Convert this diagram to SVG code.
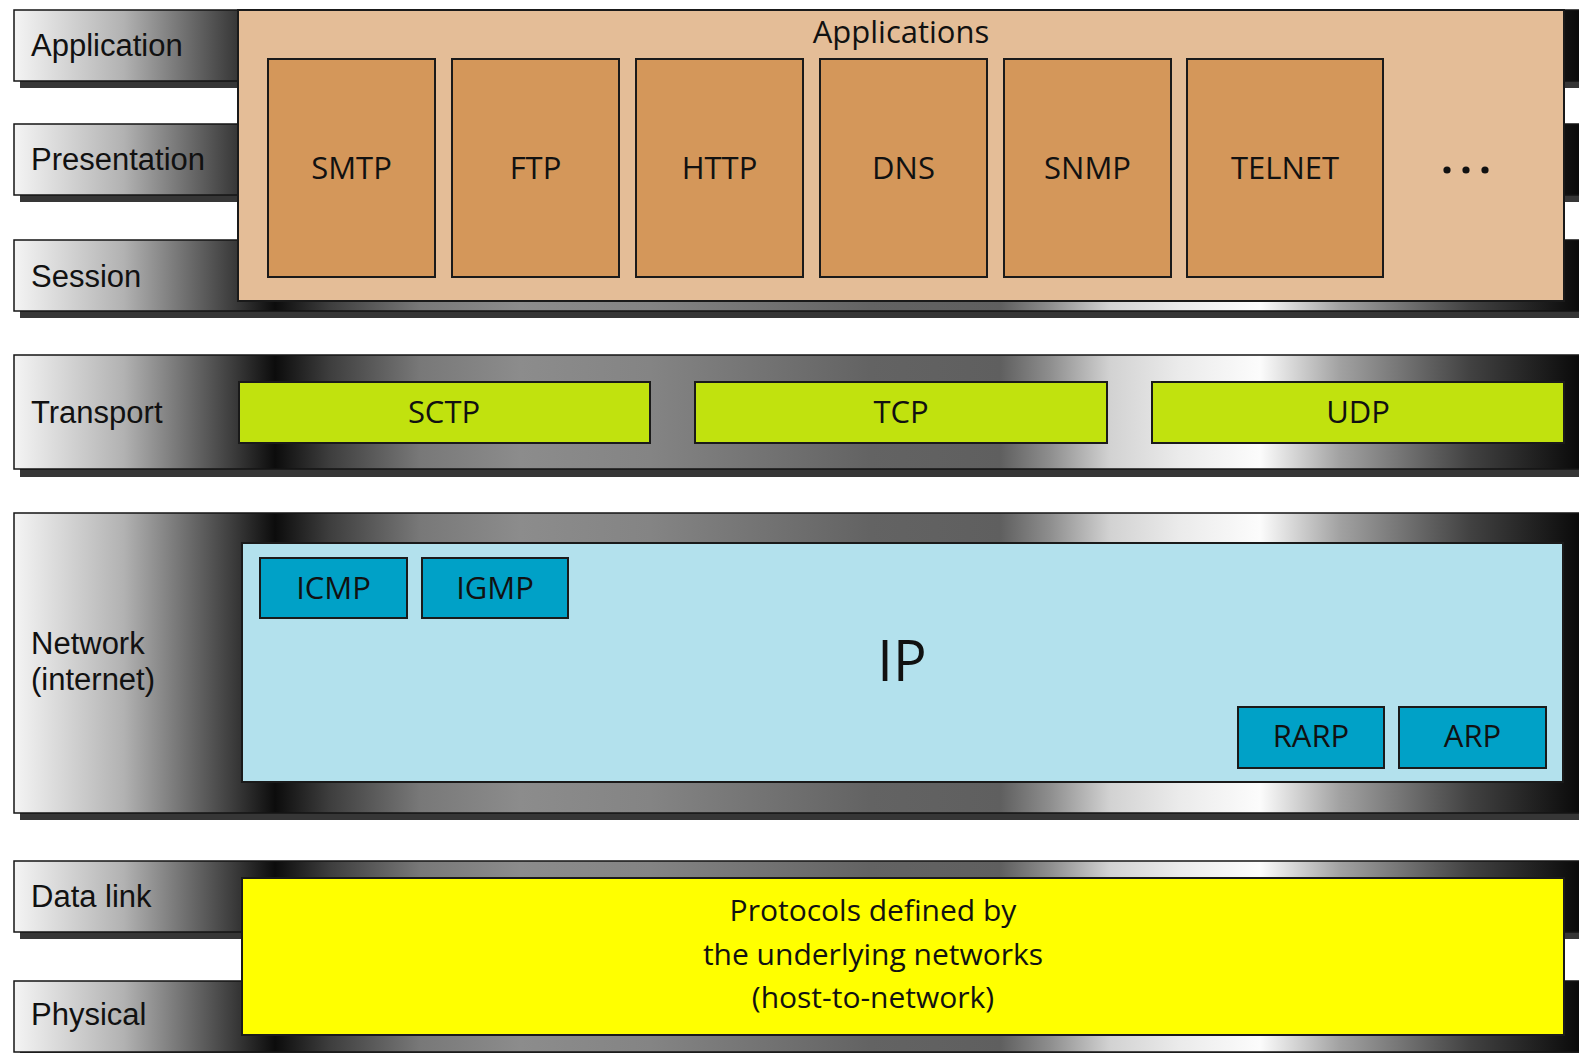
<svg xmlns="http://www.w3.org/2000/svg" width="1579" height="1053" viewBox="0 0 1579 1053">
<defs>
<linearGradient id="bandGrad" gradientUnits="userSpaceOnUse" x1="14" y1="0" x2="1579" y2="0">
<stop offset="0" stop-color="#f4f4f4"/>
<stop offset="0.07" stop-color="#b2b2b2"/>
<stop offset="0.14" stop-color="#3c3c3c"/>
<stop offset="0.1668" stop-color="#0c0c0c"/>
<stop offset="0.202" stop-color="#3e3e3e"/>
<stop offset="0.2594" stop-color="#787878"/>
<stop offset="0.3233" stop-color="#8c8c8c"/>
<stop offset="0.4064" stop-color="#848484"/>
<stop offset="0.547" stop-color="#636363"/>
<stop offset="0.63" stop-color="#5f5f5f"/>
<stop offset="0.662" stop-color="#8e8e8e"/>
<stop offset="0.7003" stop-color="#d2d2d2"/>
<stop offset="0.745" stop-color="#ebebeb"/>
<stop offset="0.796" stop-color="#fcfcfc"/>
<stop offset="0.847" stop-color="#a2a2a2"/>
<stop offset="0.93" stop-color="#424242"/>
<stop offset="1" stop-color="#0a0a0a"/>
</linearGradient>
</defs>
<style>
.band{fill:url(#bandGrad);stroke:#151515;stroke-width:1.5}
.shadow{fill:#363636}
.lbl{font-family:"Liberation Sans",Arial,sans-serif;font-size:31px;fill:#111}
.ctr{font-family:"Open Sans","Liberation Sans",sans-serif;font-size:31px;fill:#111;text-anchor:middle}
.tan{fill:#e4bd97;stroke:#1a1a1a;stroke-width:2}
.app{fill:#d4975a;stroke:#1a1a1a;stroke-width:2}
.green{fill:#c1e20e;stroke:#1a1a1a;stroke-width:2}
.ip{fill:#b3e1ed;stroke:#1a1a1a;stroke-width:2}
.blue{fill:#00a1c7;stroke:#1a1a1a;stroke-width:2}
.yellow{fill:#ffff00;stroke:#1a1a1a;stroke-width:2}
</style>
<rect width="1579" height="1053" fill="#ffffff"/>

<!-- Layer bands -->
<g id="layer-application">
<rect class="shadow" x="20" y="81" width="1565" height="7"/>
<rect class="band" x="14" y="10" width="1570" height="71"/>
<text class="lbl" x="31" y="56">Application</text>
</g>
<g id="layer-presentation">
<rect class="shadow" x="20" y="195" width="1565" height="7"/>
<rect class="band" x="14" y="124" width="1570" height="71"/>
<text class="lbl" x="31" y="170">Presentation</text>
</g>
<g id="layer-session">
<rect class="shadow" x="20" y="311" width="1565" height="7"/>
<rect class="band" x="14" y="240" width="1570" height="71"/>
<text class="lbl" x="31" y="287">Session</text>
</g>

<g id="applications">
<rect class="tan" x="238" y="10" width="1326" height="291"/>
<text class="ctr" x="901" y="43">Applications</text>
</g>
<g id="smtp"><rect class="app" x="268" y="59" width="167" height="218"/><text class="ctr" x="351.5" y="179">SMTP</text></g>
<g id="ftp"><rect class="app" x="452" y="59" width="167" height="218"/><text class="ctr" x="535.5" y="179">FTP</text></g>
<g id="http"><rect class="app" x="636" y="59" width="167" height="218"/><text class="ctr" x="719.5" y="179">HTTP</text></g>
<g id="dns"><rect class="app" x="820" y="59" width="167" height="218"/><text class="ctr" x="903.5" y="179">DNS</text></g>
<g id="snmp"><rect class="app" x="1004" y="59" width="167" height="218"/><text class="ctr" x="1087.5" y="179">SNMP</text></g>
<g id="telnet"><rect class="app" x="1187" y="59" width="196" height="218"/><text class="ctr" x="1285" y="179">TELNET</text></g>
<g id="more">
<circle cx="1447" cy="170" r="3.6" fill="#111"/>
<circle cx="1466" cy="170" r="3.6" fill="#111"/>
<circle cx="1485" cy="170" r="3.6" fill="#111"/>
</g>

<g id="layer-transport">
<rect class="shadow" x="20" y="469" width="1565" height="8"/>
<rect class="band" x="14" y="355" width="1570" height="114"/>
<text class="lbl" x="31" y="423">Transport</text>
</g>
<g id="sctp"><rect class="green" x="239" y="382" width="411" height="61"/><text class="ctr" x="444" y="423">SCTP</text></g>
<g id="tcp"><rect class="green" x="695" y="382" width="412" height="61"/><text class="ctr" x="901" y="423">TCP</text></g>
<g id="udp"><rect class="green" x="1152" y="382" width="412" height="61"/><text class="ctr" x="1358" y="423">UDP</text></g>

<g id="layer-network">
<rect class="shadow" x="20" y="813" width="1565" height="7"/>
<rect class="band" x="14" y="513" width="1570" height="300"/>
<text class="lbl" x="31" y="654">Network</text>
<text class="lbl" x="31" y="690">(internet)</text>
</g>
<g id="ip">
<rect class="ip" x="242" y="543" width="1321" height="239"/>
<text class="ctr" x="902" y="681" style="font-size:56px">IP</text>
</g>
<g id="icmp"><rect class="blue" x="260" y="558" width="147" height="60"/><text class="ctr" x="333.5" y="599">ICMP</text></g>
<g id="igmp"><rect class="blue" x="422" y="558" width="146" height="60"/><text class="ctr" x="495" y="599">IGMP</text></g>
<g id="rarp"><rect class="blue" x="1238" y="707" width="146" height="61"/><text class="ctr" x="1311" y="747">RARP</text></g>
<g id="arp"><rect class="blue" x="1399" y="707" width="147" height="61"/><text class="ctr" x="1472.5" y="747">ARP</text></g>

<g id="layer-datalink">
<rect class="shadow" x="20" y="932" width="1565" height="7"/>
<rect class="band" x="14" y="861" width="1570" height="71"/>
<text class="lbl" x="31" y="907">Data link</text>
</g>
<g id="layer-physical">
<rect class="shadow" x="20" y="1052" width="1565" height="7"/>
<rect class="band" x="14" y="981" width="1570" height="71"/>
<text class="lbl" x="31" y="1025">Physical</text>
</g>
<g id="host-to-network">
<rect class="yellow" x="242" y="878" width="1322" height="157"/>
<text class="ctr" x="873" y="921" style="font-size:30px">Protocols defined by<tspan x="873" dy="44">the underlying networks</tspan><tspan x="873" dy="43">(host-to-network)</tspan></text>
</g>

<g id="connectors"></g>
</svg>
